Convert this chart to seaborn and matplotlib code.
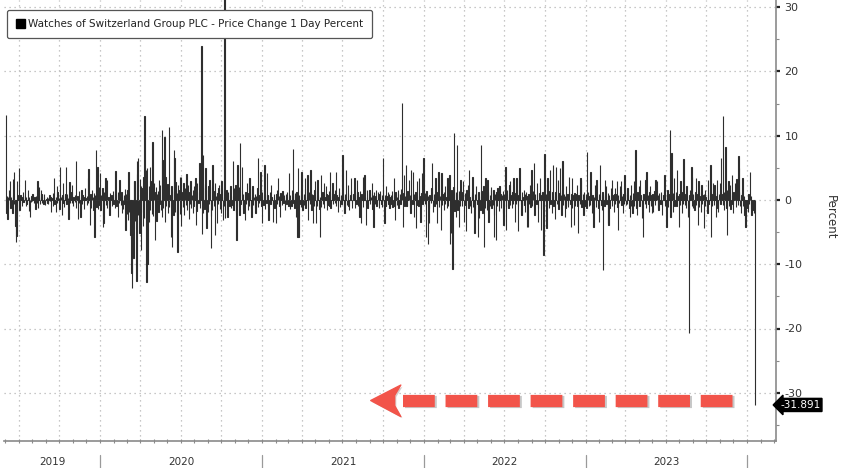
import pandas as pd
import matplotlib
matplotlib.use("Agg")
import matplotlib.pyplot as plt
import matplotlib.dates as mdates
import matplotlib.transforms as mtransforms
import matplotlib.patheffects as pe
from matplotlib.patches import Patch, Polygon
import seaborn as sns

SERIES_NAME = "Watches of Switzerland Group PLC - Price Change 1 Day Percent"
LAST_LABEL = "-31.891"
Y_LABEL = "Percent"
YEAR_LABELS = ["2019", "2020", "2021", "2022", "2023"]
Y_TICKS = [-30, -20, -10, 0, 10, 20, 30]
START_DATE = "2019-06-03"  # first trading day after listing

# daily % change, one list per calendar year (business days)
chg_2019 = [
    13.2, -2.1, 0.6, -2.9, 0.4, 1.5, 2.9, -0.7, -1.2, 0.5,
    -2.0, 0.8, 3.2, -0.6, 4.4, -4.0, -6.5, -5.6, 3.0, -2.2,
    0.7, 4.9, -1.5, 0.3, 0.8, -0.4, -0.9, 0.5, 1.2, -0.3,
    0.6, 3.1, -1.0, 0.4, -0.6, 1.5, 0.2, -1.7, 0.5, -2.6,
    -0.3, 0.6, -0.2, 0.9, 0.3, -0.5, 0.4, 0.2, -1.4, 0.6,
    -0.4, 2.9, -1.3, 0.5, 2.0, -0.6, 1.6, 0.3, 1.0, -0.4,
    -0.6, 0.5, 0.9, -0.3, -0.8, 0.2, 0.4, -0.5, -0.6, 0.3,
    0.7, -0.2, 0.4, -1.8, 0.3, 1.1, -0.9, 0.5, 3.4, -0.6,
    -1.8, 0.4, 2.2, -0.5, 1.2, 0.3, -1.4, 0.6, 5.1, 0.4,
    -2.3, 0.8, 2.6, -0.4, -1.1, 0.5, 0.9, 5.1, -0.7, 1.0,
    0.3, -2.9, 0.6, 2.8, -0.5, 1.3, -0.4, 2.4, 0.5, -1.0,
    0.4, 0.8, -0.3, 6.1, -1.2, 0.6, -2.9, 0.3, 1.4, -0.5,
    -2.6, 0.4, 1.5, -0.6, 0.7, 0.2, -1.4, 0.5, 1.9, 0.3,
    -0.8, 0.6, 3.4, -0.4, 4.8, -3.9, 0.9, -1.2, 0.5, 1.6,
    0.4, -1.5, 1.1, -5.7, 0.8, 7.8, -1.1, 0.6, 5.2, -1.4,
    2.0, -0.8,
]
chg_2020 = [
    4.2, -1.5, 0.8, 1.9, -4.2, 0.6, -3.6, 1.2, 3.4, -0.8,
    0.9, -1.2, 3.1, 0.5, -0.7, -2.3, 1.1, -0.4, 0.8, -1.0,
    0.4, 1.4, -0.6, 0.9, -1.3, 4.5, 0.7, -0.9, -2.6, 1.3,
    -0.5, 0.6, 3.1, -0.8, 1.2, -2.1, 0.5, -1.4, 0.8, -0.6,
    1.7, -4.7, 0.9, -2.2, 1.5, -3.1, 4.4, -1.8, -2.6, -5.5,
    -6.0, -11.4, -13.7, -9.0, 2.9, -4.5, 2.9, -3.2, -12.6, 4.0,
    6.1, 6.5, -2.4, -5.2, 3.3, -1.9, 2.2, -7.8, 1.8, -4.0,
    3.5, -2.8, 13.1, -3.0, 4.6, -12.8, 5.0, -9.9, 2.1, -3.4,
    5.2, -1.6, 3.0, -2.2, 9.0, 1.5, -2.5, 2.7, -6.3, 1.2,
    2.0, -3.3, 0.9, 1.4, -1.8, 3.1, -0.7, 2.4, -1.5, 10.9,
    -2.6, 6.2, -1.2, 9.8, 1.1, -3.4, 3.6, -0.9, 2.5, -2.0,
    1.8, -1.1, 11.4, 0.8, -5.7, 2.2, -7.3, 1.4, -2.4, 7.8,
    6.5, -1.9, 2.8, -3.0, 1.1, -8.1, 2.4, 1.5, -2.2, 3.6,
    3.6, -4.0, 1.3, -1.1, 2.6, 0.7, -2.4, 1.9, -0.8, 4.1,
    -1.6, 0.9, 2.3, -2.9, 1.2, -0.6, 3.0, -1.3, 0.8, -2.0,
    1.6, -0.9, 2.2, 3.4, -3.9, 1.0, -1.7, 2.6, -0.5, 1.3,
    5.8, -1.2, 2.0, 23.9, -5.3, 1.8, -2.1, 7.0, -1.4, 2.5,
    4.9, -0.8, -4.4, 1.6, -1.9, 2.2, -0.6, 3.1, -2.5, -7.5,
    2.0, -1.6, 5.5, -0.9, 1.4, -5.5, 2.7, 0.6, -3.6, 1.1,
    -0.7, 1.8, 2.3, -1.4, 0.9, -2.0, 2.9, 0.5, -3.1, 1.6,
    -1.0, 33.0, -2.8, 1.6, 0.7, -1.5, -2.6, 1.3, -0.9, 0.8,
    2.1, -1.2, 0.6, -0.8, 6.0, -1.6, 1.9, -0.5, 2.4, -1.8,
    -6.2, 1.4, 5.5, -1.0, 2.0, -2.3, 8.8, -0.7, 1.6, 5.2,
    -1.4, 0.9, -2.0, -3.1, 1.3, -0.6, 0.8, 2.6, -1.5, 1.1,
    -0.9, 3.4, 0.5, -1.2, -2.6, 1.7, 2.1, -0.8, 0.4, -1.3,
    1.0, -2.1, 0.6, 1.9, 6.5, -1.1, 0.8, -0.5, 4.4, 1.2,
    -0.9, -3.6,
]
chg_2021 = [
    1.2, -0.8, 0.6, 5.5, -1.4, 0.9, -0.5, 4.2, 0.7, -1.1,
    -3.1, 0.8, 1.3, -0.6, 2.3, 0.5, -0.9, -3.4, 1.0, 0.4,
    -1.2, -3.6, 0.9, 1.5, -0.7, 3.4, 0.6, -1.0, -2.6, 1.1,
    0.5, -0.8, 1.4, 1.0, -0.4, 0.7, -1.5, 0.9, 0.3, -0.6,
    1.2, -0.9, 0.5, 4.2, 0.8, -1.4, -1.0, 1.6, -0.5, 0.9,
    8.0, -1.2, 1.1, 0.6, -2.6, 1.3, -5.8, 4.9, -5.7, 0.8,
    -0.6, 1.5, -1.1, 4.4, 0.6, -1.6, 0.9, -0.8, 1.7, 3.4,
    -1.3, 0.5, 3.9, 0.8, -3.1, 1.2, -0.6, 4.7, 0.9, -1.5,
    1.0, -3.6, 0.7, -0.9, 1.5, 2.9, -3.6, 0.6, -1.0, 3.1,
    0.8, -1.4, -5.7, 0.5, 3.9, -1.1, 1.3, -0.7, 0.9, 2.6,
    -1.2, 0.5, 2.1, 1.0, -1.6, -0.8, 0.7, 1.4, -0.9, 4.4,
    -1.3, 0.6, 1.1, 2.6, -0.7, 0.9, -0.5, 1.5, 4.4, -1.0,
    0.8, -1.8, 0.5, 1.2, 1.8, -1.1, 0.7, -0.6, 1.3, 7.0,
    0.9, -1.5, -2.1, 1.0, 0.6, 4.7, -0.8, 2.3, 1.1, -0.9,
    -1.6, 0.7, 1.4, 3.4, -0.5, -1.3, 1.0, 0.6, 3.4, -1.2,
    0.8, -0.7, 3.1, 1.2, -0.9, 0.5, -2.6, 1.4, 0.7, -3.6,
    1.0, 3.6, -1.1, 0.6, 1.3, 3.9, -0.8, -3.9, 1.5, 0.4,
    -1.2, 0.9, 1.6, -0.6, 1.1, 0.5, 2.6, -1.4, 0.8, -4.2,
    1.3, -0.7, 0.6, 1.6, -1.0, -0.8, 1.2, 0.5, -1.3, 0.9,
    1.4, -0.6, 0.8, -1.1, 1.5, 6.5, -3.6, 0.7, -0.9, 2.1,
    -1.0, 0.6, 1.2, -0.7, 0.9, -1.3, 0.5, 0.8, -0.6, 1.4,
    -1.1, 3.4, 0.7, -0.9, -3.1, 1.2, 0.5, -0.8, 1.6, 0.9,
    -1.3, 1.0, -0.6, 1.7, 0.8, 15.1, -4.2, 1.1, 3.9, -1.0,
    0.6, 5.5, -0.9, -1.0, 1.4, 0.7, 3.1, -1.2, 0.8, -2.1,
    4.7, -0.7, 1.0, 4.4, -2.6, 0.9, 1.3, -4.4, -0.8, 1.2,
    2.9, -1.0, 3.4, 0.6, -0.9, -3.4, 1.1, 4.2, -0.7, 0.8,
    6.5,
]
chg_2022 = [
    1.1, -0.7, 0.9, -5.7, 1.4, -6.8, 0.6, -1.2, -3.6, 0.8,
    -0.5, 1.8, 5.7, 0.7, -1.8, 1.0, -0.9, 0.5, 3.4, -0.6,
    -3.6, 1.2, 0.8, 4.4, -1.1, 0.6, -4.7, 1.0, 4.2, -0.8,
    0.9, -1.6, 1.3, -0.7, 2.1, 0.5, -1.2, 3.4, -0.9, 1.1,
    3.9, -6.8, 0.7, -5.2, 1.6, -10.8, -1.4, 2.0, 10.4, -1.7,
    1.2, -2.6, 0.9, 8.6, -1.5, 1.4, -4.2, 0.8, -1.0, 3.1,
    -0.9, 1.3, 2.9, 0.6, -3.4, 1.1, -0.8, -4.9, 1.5, 0.7,
    2.3, -1.2, 4.7, 0.5, -0.9, -2.1, 1.3, 0.8, 3.6, -1.1,
    -5.2, 0.9, -1.4, 1.0, 2.2, -0.7, -5.7, 1.3, -2.8, 0.6,
    -1.5, 8.6, 1.4, -0.8, -2.1, 2.2, -7.3, 0.9, -1.3, 3.4,
    0.7, -1.6, 3.1, 1.2, -3.4, 0.8, -0.9, 1.6, 2.0, -1.2,
    -0.8, 1.5, -2.4, -5.7, 0.9, -6.2, 1.3, -1.0, 1.8, 0.6,
    -1.7, 2.1, 0.8, 1.0, -1.3, 0.7, -2.1, 1.4, -3.9, 0.9,
    5.2, -0.9, -4.7, 1.6, 1.0, -1.2, 0.6, 2.3, -0.8, 2.9,
    0.7, -1.3, 1.2, -0.6, 3.4, 0.9, -3.4, 1.1, -0.7, 3.4,
    -1.0, -4.9, 0.8, 1.5, 4.9, -0.6, -2.3, 1.2, -0.9, 0.5,
    1.6, -0.8, -1.8, 0.9, 1.3, -4.2, 0.6, -4.2, 1.0, -0.7,
    2.3, -1.1, 0.8, 4.7, -0.9, 1.4, 5.7, 0.6, -2.3, 1.0,
    -0.6, 2.6, 0.9, -1.2, -3.4, 1.1, 3.4, 0.7, -1.4, -4.7,
    1.2, 0.5, -8.6, 1.6, 7.2, -0.9, 1.0, -4.4, 0.8, 3.4,
    -1.3, 0.9, 1.4, 4.7, -0.7, -2.1, 1.2, 0.6, 5.5, -1.0,
    -2.9, 1.3, 0.8, 5.2, -0.6, 3.1, -1.4, 0.9, 1.1, 4.9,
    0.7, -2.3, 1.5, 6.1, -0.8, 1.0, -2.6, 0.6, -1.2, 2.1,
    0.9, -1.1, -0.8, 3.6, 1.2, -0.6, -4.2, 0.9, 3.4, -1.3,
    0.7, -3.9, 1.1, -0.9, 1.0, 0.6, 2.3, -1.0, -5.2, 0.8,
    -0.7, 1.2, 3.4, 3.1, -1.1, 0.9, -2.3, 0.6, 1.3, -1.0,
]
chg_2023 = [
    0.9, -1.2, 7.5, 0.8, 1.3, -1.0, 0.6, -0.8, 4.4, 1.1,
    -2.1, 0.7, -0.9, -4.2, 0.5, 2.3, -1.1, 0.8, 3.1, 0.6,
    -1.3, -3.4, 1.0, 0.7, 5.5, -0.8, -1.6, 1.2, -10.9, 0.9,
    -1.0, 3.1, 0.6, 2.1, -0.7, 1.1, -3.6, -3.9, 0.8, -1.2,
    1.8, 0.5, -0.9, 3.1, 0.7, -1.8, 1.0, -0.6, 1.8, 0.9,
    2.9, -1.1, -4.7, 0.8, -0.5, 2.1, 1.2, 2.9, -0.8, 0.6,
    -2.1, 1.0, -0.7, 3.9, 0.9, -0.8, 1.3, -0.6, 1.8, 0.5,
    -1.2, -2.6, 0.8, 2.3, -0.9, -2.1, 1.1, 0.6, 2.9, -1.0,
    7.8, 0.7, -1.3, -2.3, 1.2, 0.5, 2.1, -0.9, 3.1, 0.8,
    -1.1, -2.8, 0.6, -5.7, 1.0, -0.7, 3.1, 0.9, -1.3, 4.4,
    0.8, -0.6, -1.8, 1.2, 2.1, -0.9, 0.7, -2.1, 1.0, -1.8,
    0.6, 1.4, -0.8, 3.1, 0.9, 2.9, -1.2, 0.7, -1.6, 1.1,
    -0.7, 0.9, 1.3, -1.0, -2.3, 0.8, 1.2, 3.9, -0.9, 1.0,
    -4.2, 0.7, 1.6, -1.1, 0.9, 10.9, 1.4, -2.6, 0.8, 7.3,
    1.1, -1.8, 0.6, 3.4, -0.9, 1.2, -1.0, 0.8, 4.7, 0.6,
    -4.2, 1.0, -0.8, 2.9, 0.7, -2.1, 1.3, -0.6, 6.3, 1.1,
    -0.8, 0.9, -1.2, 2.1, 0.6, -2.6, -1.4, -20.7, 0.8, 1.6,
    5.2, -0.9, 3.6, 1.0, -1.3, -1.6, 0.7, 1.2, 3.4, -0.8,
    0.9, -3.9, 2.9, -1.1, 0.6, -1.8, 1.3, 2.3, -0.7, 0.8,
    -4.4, 1.0, -0.9, 1.6, 0.5, -1.2, -2.1, 0.8, 3.1, -0.6,
    1.2, 5.5, -5.7, 0.9, -1.0, 2.6, 0.7, -0.8, 2.3, 1.1,
    -2.6, 0.6, 3.1, -1.2, -1.8, 0.9, 1.4, 2.6, -0.7, 6.5,
    1.0, 13.1, -0.8, -1.6, 1.2, 8.3, 0.7, -1.3, -5.5, 1.5,
    2.9, -0.9, 1.1, 2.3, -1.4, 0.8, 3.9, -0.6, -2.1, 1.2,
    0.9, 2.6, -1.1, 0.7, 3.2, -0.8, 6.8, 1.3, 4.9, -1.0,
    -2.1, 0.8, 1.1, 3.4, -0.9, 0.6, -2.3, -1.2, -4.2, -0.8,
]
chg_2024 = [
    -0.6, -1.2, -1.8, 0.9, -0.7, 4.4, -1.4, 0.6, -2.3, -1.1,
    -1.6, -2.0, -1.3, -31.891,
]

BAR_COLOR = "#2e2e2e"
GRID_COLOR = "#b5b5b5"
ARROW_RED = "#f2544a"


def build_frame():
    values = chg_2019 + chg_2020 + chg_2021 + chg_2022 + chg_2023 + chg_2024
    dates = pd.bdate_range(START_DATE, periods=len(values))
    df = pd.DataFrame({"date": dates, "pct": values})
    df["x"] = mdates.date2num(df["date"])
    return df


def draw_arrow(ax):
    # red dashed arrow pointing at the big drop
    trans = mtransforms.blended_transform_factory(ax.transAxes, ax.transData)
    y = -31.2
    shadow = [pe.SimpleLineShadow(offset=(1.2, -1.2), alpha=0.22), pe.Normal()]
    # dash lengths are in multiples of the line width
    ax.plot([0.517, 0.948], [y, y], transform=trans, color=ARROW_RED, lw=8.8,
            dashes=(2.6, 0.88), dash_capstyle="butt", clip_on=False, zorder=5,
            path_effects=shadow)
    head = Polygon([(0.475, y), (0.514, y + 2.4), (0.506, y + 0.8), (0.506, y - 0.8), (0.514, y - 2.5)],
                   closed=True, transform=trans, facecolor=ARROW_RED, edgecolor=ARROW_RED,
                   lw=1.0, joinstyle="round", zorder=5,
                   path_effects=[pe.SimplePatchShadow(offset=(1.2, -1.2), alpha=0.22), pe.Normal()])
    ax.add_patch(head)


def plot_chart(df, output_path):
    sns.set_style("white")
    plt.rcParams["font.family"] = ["DejaVu Sans"]

    fig = plt.figure(figsize=(8.48, 4.68), dpi=100)
    ax = fig.add_axes([4 / 848, 27 / 468, 772 / 848, 441 / 468])

    sns.barplot(data=df, x="x", y="pct", native_scale=True, errorbar=None,
                color=BAR_COLOR, saturation=1, width=0.8, linewidth=0.8,
                edgecolor=BAR_COLOR, ax=ax, zorder=3)

    ax.set_xlim(mdates.date2num(pd.Timestamp("2019-05-29")),
                mdates.date2num(pd.Timestamp("2024-03-06")))
    ax.set_ylim(-37.5, 31.1)
    ax.set_xlabel("")
    ax.set_ylabel("")

    # x axis: quarterly grid, monthly ticks, years written underneath
    ax.xaxis.set_major_locator(mdates.MonthLocator(bymonth=[1, 4, 7, 10]))
    ax.xaxis.set_minor_locator(mdates.MonthLocator())
    ax.xaxis.set_major_formatter(plt.NullFormatter())
    ax.tick_params(axis="x", which="both", direction="inout", length=3,
                   color="#8a8a8a", width=0.8, bottom=True)

    # y axis on the right like a terminal chart
    ax.yaxis.tick_right()
    ax.set_yticks(Y_TICKS)
    ax.set_yticks([-35, -25, -15, -5, 5, 15, 25], minor=True)
    ax.set_yticklabels([str(t) for t in Y_TICKS])
    ax.tick_params(axis="y", which="major", direction="out", length=3, width=1.6,
                   color="#222222", labelsize=8, labelcolor="#333333", pad=3, right=True, left=False)
    ax.tick_params(axis="y", which="minor", direction="out", length=2, width=0.8,
                   color="#8a8a8a", right=True, left=False)

    ax.grid(True, which="major", axis="both", color=GRID_COLOR, linestyle=(0, (1, 3)), lw=0.9)
    ax.set_axisbelow(True)

    for side in ["top", "left"]:
        ax.spines[side].set_visible(False)
    for side in ["bottom", "right"]:
        ax.spines[side].set_color("#8a8a8a")
        ax.spines[side].set_linewidth(1.2)

    # year labels and separators below the axis
    blend = mtransforms.blended_transform_factory(ax.transData, ax.transAxes)
    x_lo, x_hi = ax.get_xlim()
    for label in YEAR_LABELS + ["2024"]:
        start = mdates.date2num(pd.Timestamp(f"{label}-01-01"))
        end = mdates.date2num(pd.Timestamp(f"{int(label) + 1}-01-01"))
        if start > x_lo:
            ax.plot([start, start], [-0.031, -0.065], transform=blend, color="#9a9a9a",
                    lw=0.9, clip_on=False)
        if label in YEAR_LABELS:
            mid = (max(start, x_lo) + min(end, x_hi)) / 2
            ax.text(mid, -0.048, label, transform=blend, ha="center", va="center",
                    fontsize=7.5, color="#333333")

    fig.text(830 / 848, 0.535, Y_LABEL, rotation=270, ha="center", va="center",
             fontsize=8.5, color="#333333")

    handle = Patch(facecolor="black", edgecolor="black")
    leg = ax.legend([handle], [SERIES_NAME], loc="upper left",
                    bbox_to_anchor=(0.004, 0.978), fontsize=7.5, frameon=True,
                    fancybox=True, handlelength=0.8, handleheight=0.9,
                    handletextpad=0.3, borderpad=0.9, borderaxespad=0)
    leg.get_frame().set_edgecolor("#555555")
    leg.get_frame().set_linewidth(0.9)
    leg.get_frame().set_alpha(1)
    leg.set_zorder(6)
    for text in leg.get_texts():
        text.set_color("#222222")

    draw_arrow(ax)

    last = chg_2024[-1]
    ax.annotate(LAST_LABEL, xy=(1.0, last), xycoords=("axes fraction", "data"),
                xytext=(3, 0), textcoords="offset points", ha="left", va="center",
                fontsize=7.5, color="white",
                bbox=dict(boxstyle="larrow,pad=0.15", fc="black", ec="black"),
                annotation_clip=False)

    fig.savefig(output_path, dpi=100)
    plt.close(fig)


def main():
    df = build_frame()
    print(f"rows: {len(df)}, last date {df['date'].iloc[-1].date()}")
    plot_chart(df, "out.png")


if __name__ == "__main__":
    main()
